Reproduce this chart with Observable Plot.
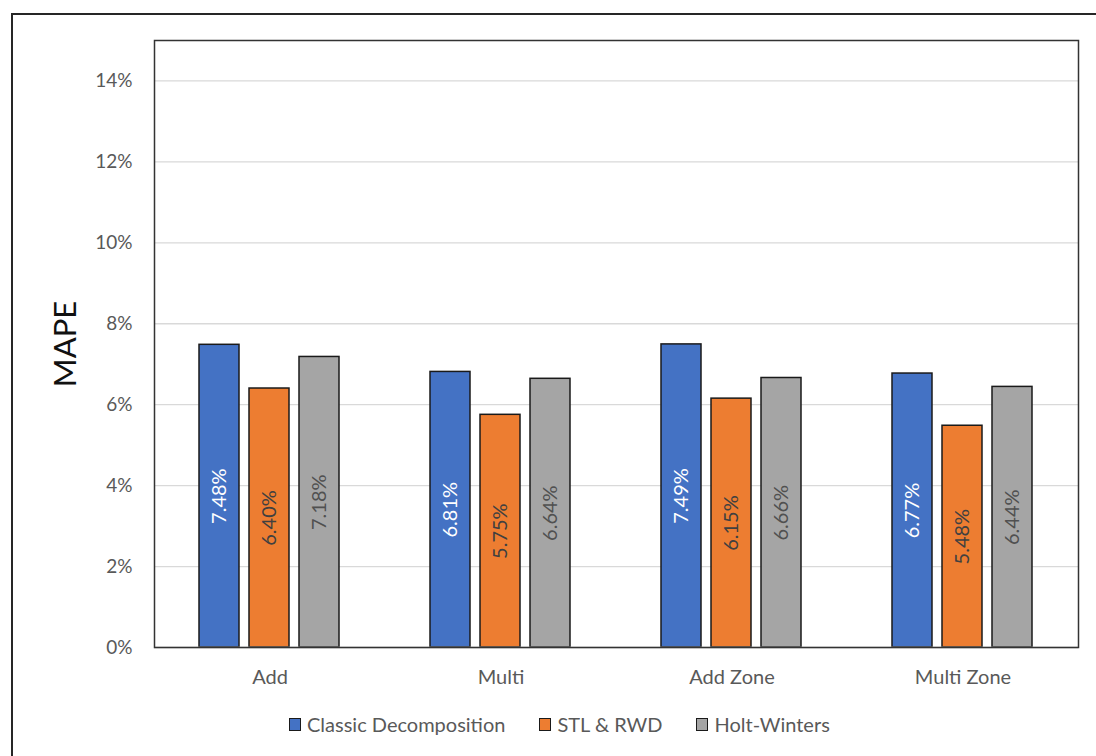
<!DOCTYPE html>
<html>
<head>
<meta charset="utf-8">
<script src="https://cdn.jsdelivr.net/npm/d3@7"></script>
<script src="https://cdn.jsdelivr.net/npm/@observablehq/plot@0.6"></script>
<style>
  html, body { margin: 0; padding: 0; background: #fff; }
  body { width: 1096px; height: 756px; overflow: hidden; position: relative; font-family: Lato, "Open Sans", sans-serif; }
  #box { position: absolute; left: 11px; top: 13px; width: 1100px; height: 760px; border: 2px solid #262626; box-sizing: border-box; }
  #chart svg { display: block; }
  #legend { display: flex; align-items: center; margin-left: 276px; margin-top: 22px; height: 20px; }
  .item { display: flex; align-items: center; margin-right: 34px; font-size: 20px; color: #595959; }
  .sw { width: 10px; height: 11px; border: 1.5px solid #1a1a1a; margin-right: 6px; }
</style>
</head>
<body>
<div id="box">
  <div id="chart"></div>
  <div id="legend"></div>
</div>
<script>
const categories = ["Add", "Multi", "Add Zone", "Multi Zone"];
const series = ["Classic Decomposition", "STL & RWD", "Holt-Winters"];
const classic = [7.48, 6.81, 7.49, 6.77];
const stlRwd = [6.40, 5.75, 6.15, 5.48];
const holtWinters = [7.18, 6.64, 6.66, 6.44];
const yTicks = [0, 2, 4, 6, 8, 10, 12, 14];
const colors = ["#4472C4", "#ED7D31", "#A5A5A5"];
const labelColors = ["#ffffff", "#404040", "#505050"];

const data = [];
[classic, stlRwd, holtWinters].forEach((vals, si) =>
  vals.forEach((v, ci) => data.push({category: categories[ci], series: series[si], value: v}))
);

const chart = Plot.plot({
  width: 1083,
  height: 677,
  marginLeft: 141,
  marginRight: 18,
  marginTop: 25,
  marginBottom: 45,
  style: {fontFamily: "Lato, 'Open Sans', sans-serif", background: "#fff", overflow: "visible"},
  fx: {domain: categories, padding: 0, label: null},
  x: {domain: series, paddingInner: 0.196, paddingOuter: 0.863, axis: null},
  y: {domain: [0, 15], label: null},
  color: {domain: series, range: colors},
  marks: [
    Plot.gridY(yTicks, {stroke: "#d9d9d9", strokeOpacity: 1, strokeWidth: 1.3}),
    Plot.axisY(yTicks, {tickSize: 0, tickPadding: 22, tickFormat: d => d + "%", fontSize: 19, color: "#595959", label: null}),
    Plot.axisFx({anchor: "bottom", tickSize: 0, tickPadding: 22, fontSize: 20, color: "#595959", label: null}),
    Plot.barY(data, {fx: "category", x: "series", y: "value", fill: "series", stroke: "#1a1a1a", strokeWidth: 1.5}),
    ...series.map((s, i) => Plot.text(data.filter(d => d.series === s), {
      fx: "category", x: "series", y: d => d.value / 2,
      text: d => d.value.toFixed(2) + "%",
      rotate: -90, fill: labelColors[i], fontSize: 20
    })),
    Plot.ruleY([0], {stroke: "#d9d9d9", strokeWidth: 1.3}),
    Plot.frame({facet: "super", stroke: "#333", strokeWidth: 1.5}),
    Plot.text(["MAPE"], {facet: "super", frameAnchor: "left", textAnchor: "middle", rotate: -90, dx: -88, fontSize: 31, fill: "#111"})
  ]
});
document.getElementById("chart").appendChild(chart);

const legend = document.getElementById("legend");
series.forEach((s, i) => {
  const item = document.createElement("div");
  item.className = "item";
  const sw = document.createElement("span");
  sw.className = "sw";
  sw.style.background = colors[i];
  const t = document.createElement("span");
  t.textContent = s;
  item.appendChild(sw);
  item.appendChild(t);
  legend.appendChild(item);
});
</script>
</body>
</html>
